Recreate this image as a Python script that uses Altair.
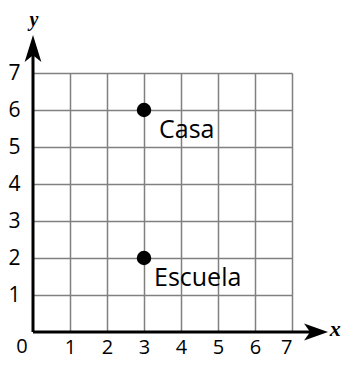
import altair as alt
import pandas as pd

# data
tick_values = [1, 2, 3, 4, 5, 6, 7]
point_names = ["Casa", "Escuela"]
point_x = [3, 3]
point_y = [6, 2]

pts = pd.DataFrame({"name": point_names, "x": point_x, "y": point_y})
one = pd.DataFrame({"a": [0]})

xs = alt.Scale(domain=[0, 7], nice=False, zero=False)
ys = alt.Scale(domain=[0, 7], nice=False, zero=False)

FONT = "Open Sans"

xaxis = alt.Axis(values=tick_values, domain=False, ticks=False, tickSize=0, grid=True,
                 gridColor="#808080", gridWidth=1.5, labelFont=FONT, labelFontSize=20,
                 labelColor="black", labelPadding=21, labelBaseline="alphabetic",
                 title=None, labelAngle=0)
yaxis = alt.Axis(values=tick_values, domain=False, ticks=False, tickSize=0, grid=True,
                 gridColor="#808080", gridWidth=1.5, labelFont=FONT, labelFontSize=21,
                 labelColor="black", labelPadding=13, title=None)

base = alt.Chart(pts).encode(
    x=alt.X("x:Q", scale=xs, axis=xaxis),
    y=alt.Y("y:Q", scale=ys, axis=yaxis),
)

points = base.mark_circle(size=210, color="black", opacity=1)

casa = alt.Chart(pts).transform_filter(alt.datum.name == "Casa").mark_text(
    align="left", baseline="middle", dx=15, dy=20, font=FONT, fontSize=25, color="black"
).encode(x=alt.X("x:Q", scale=xs), y=alt.Y("y:Q", scale=ys), text="name:N")

escuela = alt.Chart(pts).transform_filter(alt.datum.name == "Escuela").mark_text(
    align="left", baseline="middle", dx=10, dy=20, font=FONT, fontSize=25, color="black"
).encode(x=alt.X("x:Q", scale=xs), y=alt.Y("y:Q", scale=ys), text="name:N")

xline = alt.Chart(one).mark_rule(color="black", strokeWidth=3).encode(
    x=alt.datum(0, scale=xs), x2=alt.datum(7.5), y=alt.datum(0, scale=ys))
yline = alt.Chart(one).mark_rule(color="black", strokeWidth=3).encode(
    x=alt.datum(0, scale=xs), y=alt.datum(0, scale=ys), y2=alt.datum(7.5))

xarrow = alt.Chart(one).mark_point(
    shape="M1,0 L-1,-0.7 L-0.5,0 L-1,0.7 Z", size=576, filled=True, color="black", opacity=1, strokeWidth=0
).encode(x=alt.datum(7.65, scale=xs), y=alt.datum(0, scale=ys))
yarrow = alt.Chart(one).mark_point(
    shape="M0,-1 L-0.62,1 L0,0.5 L0.62,1 Z", size=729, filled=True, color="black", opacity=1, strokeWidth=0
).encode(x=alt.datum(0, scale=xs), y=alt.datum(7.66, scale=ys))

xlab = alt.Chart(one).mark_text(
    text="x", font="Liberation Serif", fontStyle="italic", fontWeight="bold", fontSize=22,
    baseline="alphabetic", align="center", color="black"
).encode(x=alt.datum(8.17, scale=xs), y=alt.datum(-0.11, scale=ys))
ylab = alt.Chart(one).mark_text(
    text="y", font="Liberation Serif", fontStyle="italic", fontWeight="bold", fontSize=20,
    baseline="alphabetic", align="center", color="black", dx=1
).encode(x=alt.datum(0, scale=xs), y=alt.datum(8.27, scale=ys))

zero = alt.Chart(one).mark_text(
    text="0", font=FONT, fontSize=20, baseline="alphabetic", align="center", color="black",
    dx=-11, dy=21
).encode(x=alt.datum(0, scale=xs), y=alt.datum(0, scale=ys))

chart = alt.layer(points, casa, escuela, xline, yline, xarrow, yarrow, xlab, ylab, zero).properties(
    width=259, height=259,
    padding={"left": 25, "top": 65, "right": 49, "bottom": 27},
    autosize=alt.AutoSizeParams(type="none"),
).configure_view(stroke=None).configure(background="white")

chart.save("out.html", embed_options={"renderer": "svg", "actions": False})
